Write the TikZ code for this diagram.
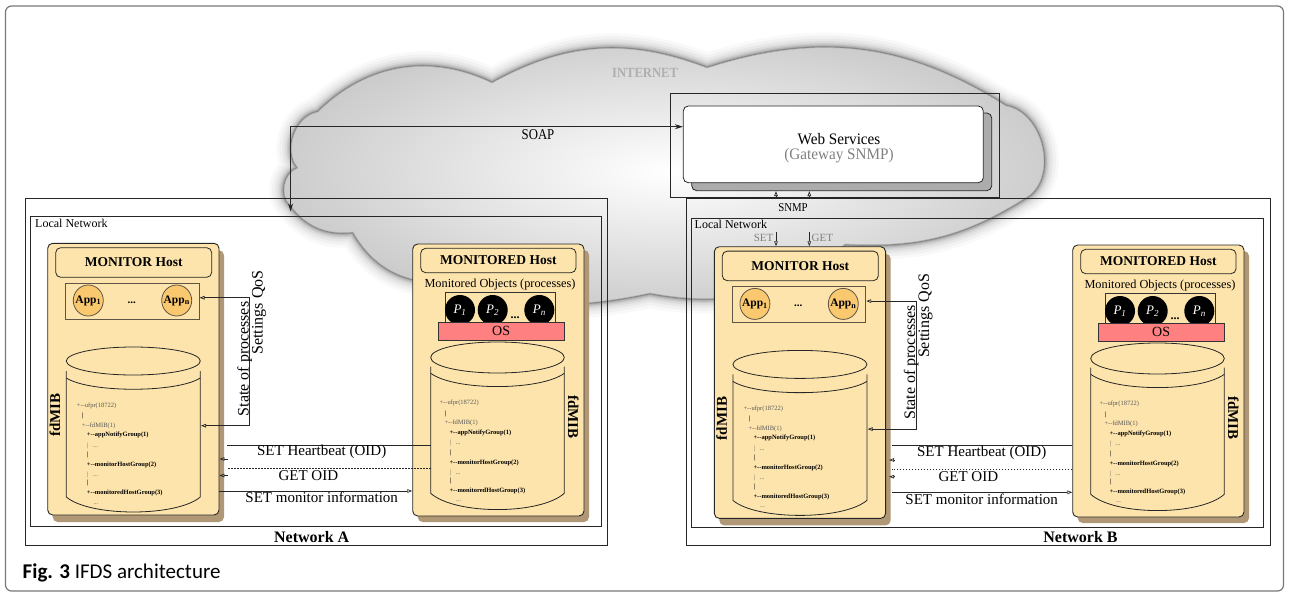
\documentclass[tikz,border=0pt]{standalone}
\usepackage{fontspec}
\setmainfont{Liberation Serif}
\newfontfamily\tms{Liberation Serif}
\newfontfamily\capfont{Carlito}
\usetikzlibrary{arrows.meta,shapes.geometric}
\definecolor{hostfill}{RGB}{253,228,172}
\definecolor{hostshadow}{RGB}{176,152,118}
\definecolor{appfill}{RGB}{250,200,110}
\definecolor{appline}{RGB}{95,85,70}
\definecolor{osfill}{RGB}{255,128,128}
\definecolor{framegray}{RGB}{120,120,120}
\definecolor{inetgray}{RGB}{175,175,175}
\newcommand\fsz[1]{\tms\fontsize{#1}{#1}\selectfont}
\tikzset{
  hostbox/.style={draw=black!85, fill=hostfill, rounded corners=5pt, line width=0.9pt, minimum width=171.3pt, inner sep=0pt},
  shadowbox/.style={fill=hostshadow, rounded corners=5pt, minimum width=171.3pt, inner sep=0pt},
  titlebox/.style={draw=black!85, fill=hostfill, rounded corners=5pt, line width=0.8pt, inner sep=0pt, font=\bfseries\fsz{13.5}},
  appsbox/.style={draw=appline, line width=0.9pt, inner sep=0pt},
  appc/.style={ellipse, draw=appline, fill=appfill, line width=0.8pt, minimum width=30pt, minimum height=31pt, inner sep=0pt, font=\bfseries\fsz{11.5}},
  pc/.style={circle, fill=black, minimum size=30pt, inner sep=0pt, text=white, font=\itshape\fsz{13}},
  osbox/.style={draw=black!80, fill=osfill, line width=0.7pt, inner sep=0pt, font=\fsz{14}},
  cyl/.style={draw=black!85, line width=0.8pt},
  fdmib/.style={font=\bfseries\fsz{15}},
  treel/.style={anchor=west, inner sep=0pt, text=black!65, font=\fsz{6.5}},
  treeb/.style={anchor=west, inner sep=0pt, text=black, font=\bfseries\fsz{6.5}},
  conn/.style={draw=black!85, line width=0.7pt},
  tipo/.tip={Triangle[open,length=5pt,width=3.6pt]},
  lbl/.style={font=\fsz{15}, inner sep=0pt},
  rot/.style={rotate=90, anchor=base, font=\fsz{16}, inner sep=0pt},
  netframe/.style={draw=black!85, line width=0.8pt, inner sep=0pt},
}
\newcommand\MibTree[3]{%
\begin{scope}[shift={(#1,#2)}]
\node[treel] (ta#3) at (0,0) {+-{}-ufpr(18722)};
\node[treeb] (tb#3) at (5,10.3) {|};
\node[treel] (tc#3) at (5,20) {+-{}-fdMIB(1)};
\node[treeb] (td#3) at (10,29.3) {+-{}-appNotifyGroup(1)};
\node[treel] (te#3) at (10,40) {|\ \ \ ...};
\node[treeb] (tf#3) at (10,49.3) {|};
\node[treeb] (tg#3) at (10,59.3) {+-{}-monitorHostGroup(2)};
\node[treel] (th#3) at (10,69.3) {|\ \ \ ...};
\node[treeb] (ti#3) at (10,77.6) {|};
\node[treeb] (tj#3) at (10,87.6) {+-{}-monitoredHostGroup(3)};
\node[treel] (tk#3) at (16.6,98.3) {...};
\end{scope}}
\newcommand\MonitorHost[1]{%
\node[shadowbox, minimum height=271.7pt] (mhs#1) at (138.35,386.15) {};
\node[hostbox, minimum height=271.7pt] (mh#1) at (133.35,379.15) {};
\node[titlebox, minimum width=156pt, minimum height=29.6pt] (mt#1) at (133.7,262.5) {MONITOR Host};
\node[appsbox, minimum width=133.6pt, minimum height=36pt] (apps#1) at (132.5,301.3) {};
\node[appc] (appa#1) at (88.3,300.5) {\makebox[0pt]{App\textsubscript{1}}};
\node[appc] (appb#1) at (176.7,300.5) {\makebox[0pt]{App\textsubscript{n}}};
\node[font=\bfseries\fsz{11}, inner sep=0pt] (appd#1) at (131.7,302.7) {...};
\draw[cyl] (133.3,361) ellipse [x radius=67pt, y radius=14pt];
\draw[cyl] (66.3,371) -- (66.3,497) .. controls (90,517) and (176.6,517) .. (200.3,497) -- (200.3,371);
\draw[cyl] (66.3,378) .. controls (90,393) and (176.6,393) .. (200.3,378);
\node[fdmib, rotate=90] (fd#1) at (55,415) {fdMIB};
\MibTree{76.7}{405.7}{#1}
\coordinate (spa#1) at (199.6,297.7);
\coordinate (spb#1) at (201,425.7);
\draw[conn, tipo-tipo] (spa#1) -| (249.3,361) |- (spb#1);
\node[rot] (st#1) at (248.5,359) {State of processes};
\node[rot] (sq#1) at (262.5,312.5) {Settings QoS};
}
\newcommand\MonitoredHost[1]{%
\node[shadowbox, minimum height=272pt] (dhs#1) at (503.35,386) {};
\node[hostbox, minimum height=272pt] (dh#1) at (498.35,380) {};
\node[titlebox, minimum width=155.3pt, minimum height=24.4pt] (dt#1) at (498.35,260.5) {MONITORED Host};
\node[font=\fsz{12.3}, inner sep=0pt] (mo#1) at (500,285) {Monitored Objects (processes)};
\node[draw=black!80, line width=0.7pt, minimum width=110.7pt, minimum height=30.6pt, inner sep=0pt] (pb#1) at (500.35,308) {};
\node[pc] (pa#1) at (460,310) {\makebox[0pt]{P\textsubscript{1}}};
\node[pc] (pb2#1) at (492.7,310) {\makebox[0pt]{P\textsubscript{2}}};
\node[pc] (pn#1) at (539.3,310) {\makebox[0pt]{P\textsubscript{n}}};
\node[font=\bfseries\fsz{12}, inner sep=0pt] (pd#1) at (515,318) {...};
\node[osbox, minimum width=125.7pt, minimum height=17.3pt] (os#1) at (501.15,331.35) {OS};
\draw[cyl] (497.5,357.5) ellipse [x radius=66.8pt, y radius=15.5pt];
\draw[cyl] (430.7,366.7) -- (430.7,493.3) .. controls (455,515) and (540,515) .. (564.3,493.3) -- (564.3,366.7);
\draw[cyl] (430.7,373.3) .. controls (455,391) and (540,391) .. (564.3,373.3);
\node[fdmib, rotate=-90] (fd#1) at (573.3,416.7) {fdMIB};
\MibTree{439.3}{403.3}{d#1}
}
\def\cloudpath{(290,205) to[bend left=60] (298,168) to[bend left=60] (318,112) to[bend left=35] (492,83) to[bend left=25] (707,68) to[bend left=25] (1006,106) to[bend left=65] (1030,195) to[bend left=18] (845,244) to[bend left=25] (650,293) to[bend left=15] (440,282) to[bend left=30] (353,232) to[bend left=30] (290,205) -- cycle}
\begin{document}
\begin{tikzpicture}[x=1pt,y=-1pt]
\useasboundingbox (0,0) rectangle (1289,596);
\fill[white] (0,0) rectangle (1289,596);
% outer frame
\draw[framegray, line width=1.2pt, rounded corners=6pt] (5.5,6) rectangle (1283.5,591);
% cloud
\foreach \w/\o in {30/0.03,24/0.04,18/0.05,13/0.07,9/0.1,6/0.14,3.5/0.22,1.8/0.35}{
  \draw[line width=\w pt, black!75, opacity=\o, line join=round] \cloudpath;}
\shade[inner color=white, outer color=gray!40] \cloudpath;
\draw[gray!60, line width=0.6pt] \cloudpath;
\node[font=\bfseries\fsz{14}, text=inetgray, xscale=0.9] (inet) at (645,73) {INTERNET};
% network frames
\node[netframe, minimum width=582.5pt, minimum height=347.5pt] (netA) at (316.25,371.75) {};
\node[netframe, minimum width=571.5pt, minimum height=310pt] (locA) at (315.75,371) {};
\node[netframe, minimum width=584.7pt, minimum height=347pt] (netB) at (978.35,371.5) {};
\node[netframe, minimum width=571.3pt, minimum height=309.7pt] (locB) at (977.35,372.85) {};
\node[anchor=west, font=\fsz{12}, inner sep=0pt] (locAl) at (35,223.3) {Local Network};
\node[anchor=west, font=\fsz{12}, inner sep=0pt] (locBl) at (694.5,224.3) {Local Network};
\node[font=\bfseries\fsz{16}, inner sep=0pt] (netAl) at (311.7,537.5) {Network A};
\node[font=\bfseries\fsz{16}, inner sep=0pt] (netBl) at (1080.5,537) {Network B};
% web services
\node[netframe, minimum width=328.6pt, minimum height=104.4pt] (wsframe) at (835,145.5) {};
\node[draw=black!85, fill=gray!65, rounded corners=5pt, line width=0.8pt, minimum width=300pt, minimum height=77.7pt, inner sep=0pt] (wssh) at (841.7,151.85) {};
\node[draw=black!85, fill=white, rounded corners=5pt, line width=0.8pt, minimum width=300pt, minimum height=76.7pt, inner sep=0pt] (ws) at (833.3,144.35) {};
\node[font=\fsz{16}, align=center, inner sep=0pt, xscale=0.95] (wst) at (839,148.5) {Web Services\\[-1pt]{\color{gray}(Gateway SNMP)}};
% SOAP
\coordinate (soapEnd) at (290.6,211.5);
\draw[conn, line width=0.8pt, {Stealth[length=8pt,width=5pt]}-{Stealth[length=8pt,width=5pt]}] (soapEnd) |- ([yshift=17.65pt]ws.west);
\node[font=\fsz{15}, xscale=0.85, inner sep=0pt] (soap) at (538,135) {SOAP};
% hosts
\MonitorHost{A}
\MonitoredHost{A}
\begin{scope}[shift={(666.6,3.4)}]
\MonitorHost{B}
\end{scope}
\begin{scope}[shift={(660,1)}]
\MonitoredHost{B}
\end{scope}
% SNMP
\coordinate (sn1) at (776,198);
\coordinate (sn2) at (809.3,198);
\draw[conn, -tipo] (sn1) -- (sn1 |- wssh.south);
\draw[conn, -tipo] (sn2) -- (sn2 |- wssh.south);
\node[font=\fsz{12}, xscale=0.9, inner sep=0pt] (snmp) at (793,208) {SNMP};
\coordinate (sg1) at (776,232);
\coordinate (sg2) at (809.3,232);
\draw[conn, -tipo] (sg1) -- (sg1 |- mhB.north);
\draw[conn, -tipo] (sg2) -- (sg2 |- mhB.north);
\node[anchor=east, font=\fsz{11}, text=gray, inner sep=0pt] (setl) at (773.5,238) {SET};
\node[anchor=west, font=\fsz{11}, text=gray, inner sep=0pt] (getl) at (811.5,238) {GET};
% connectors network A
\coordinate (hbA1) at (227,445);
\coordinate (hbA2) at (430.7,445);
\coordinate (goA1) at (227,468.3);
\coordinate (goA2) at (430.7,468.3);
\draw[conn] (hbA2) -- (hbA1);
\draw[conn, dash pattern=on 1.5pt off 1.5pt] (goA2) -- (goA1);
\coordinate (taA1) at (228,459);
\coordinate (taA2) at (228,475.5);
\draw[conn, -tipo] (taA1) -- (mhA.east |- taA1);
\draw[conn, -tipo] (taA2) -- (mhA.east |- taA2);
\coordinate (smA) at (219,491);
\draw[conn, -tipo] (smA) -- (dhA.west |- smA);
\node[lbl] (hblA) at (321.7,451.7) {SET Heartbeat (OID)};
\node[lbl] (golA) at (308.3,475.7) {GET OID};
\node[lbl] (smlA) at (321.7,497.7) {SET monitor information};
% connectors network B
\coordinate (hbB1) at (891.7,445);
\coordinate (goB1) at (891.7,469);
\draw[conn] (dhB.west |- hbB1) -- (hbB1);
\draw[conn, dash pattern=on 1.5pt off 1.5pt] (dhB.west |- goB1) -- (goB1);
\coordinate (taB1) at (894.5,460);
\coordinate (taB2) at (894.5,476.7);
\draw[conn, -tipo] (taB1) -- ([xshift=3pt]mhB.east |- taB1);
\draw[conn, -tipo] (taB2) -- ([xshift=3pt]mhB.east |- taB2);
\coordinate (smB) at (891.7,492.3);
\draw[conn, -tipo] (smB) -- (dhB.west |- smB);
\node[lbl] (hblB) at (981.7,452.7) {SET Heartbeat (OID)};
\node[lbl] (golB) at (968.3,476.7) {GET OID};
\node[lbl] (smlB) at (981.7,499.3) {SET monitor information};
% caption
\node[anchor=base west, font=\capfont\fontsize{21}{21}\selectfont, inner sep=0pt] (cap) at (22.5,578) {\textbf{Fig. 3} IFDS architecture};
\end{tikzpicture}
\end{document}
